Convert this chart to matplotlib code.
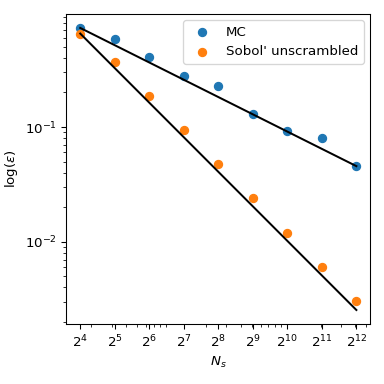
import numpy as np
import matplotlib
matplotlib.use("Agg")
import matplotlib.pyplot as plt
from matplotlib.ticker import LogLocator, LogFormatterSciNotation

# sample sizes and errors
ns = [16, 32, 64, 128, 256, 512, 1024, 2048, 4096]
mc_err = [0.730, 0.585, 0.407, 0.278, 0.227, 0.129, 0.0917, 0.0801, 0.0456]
sobol_err = [0.652, 0.368, 0.188, 0.0942, 0.0472, 0.0243, 0.0120, 0.00608, 0.00305]

# convergence rates of the reference lines
mc_rate = 0.5
sobol_rate = 1.0

ns_arr = np.array(ns, dtype=float)
mc_line = mc_err[0] * (ns_arr[0] / ns_arr) ** mc_rate
sobol_line = sobol_err[0] * (ns_arr[0] / ns_arr) ** sobol_rate

fig, ax = plt.subplots(figsize=(4, 4), dpi=96)
fig.subplots_adjust(left=0.173, right=0.964, bottom=0.156, top=0.964)

ax.scatter(ns, mc_err, label="MC")
ax.scatter(ns, sobol_err, label="Sobol' unscrambled")
ax.plot(ns_arr, mc_line, c="k")
ax.plot(ns_arr, sobol_line, c="k")

ax.set_xscale("log")
ax.set_yscale("log")
ax.xaxis.set_major_locator(LogLocator(base=2, numticks=20))
ax.xaxis.set_major_formatter(LogFormatterSciNotation(base=2))

ax.set_xlabel(r"$N_s$")
ax.set_ylabel(r"log($\epsilon$)")
ax.legend(loc="upper right")

fig.savefig("out.png", dpi=96)
